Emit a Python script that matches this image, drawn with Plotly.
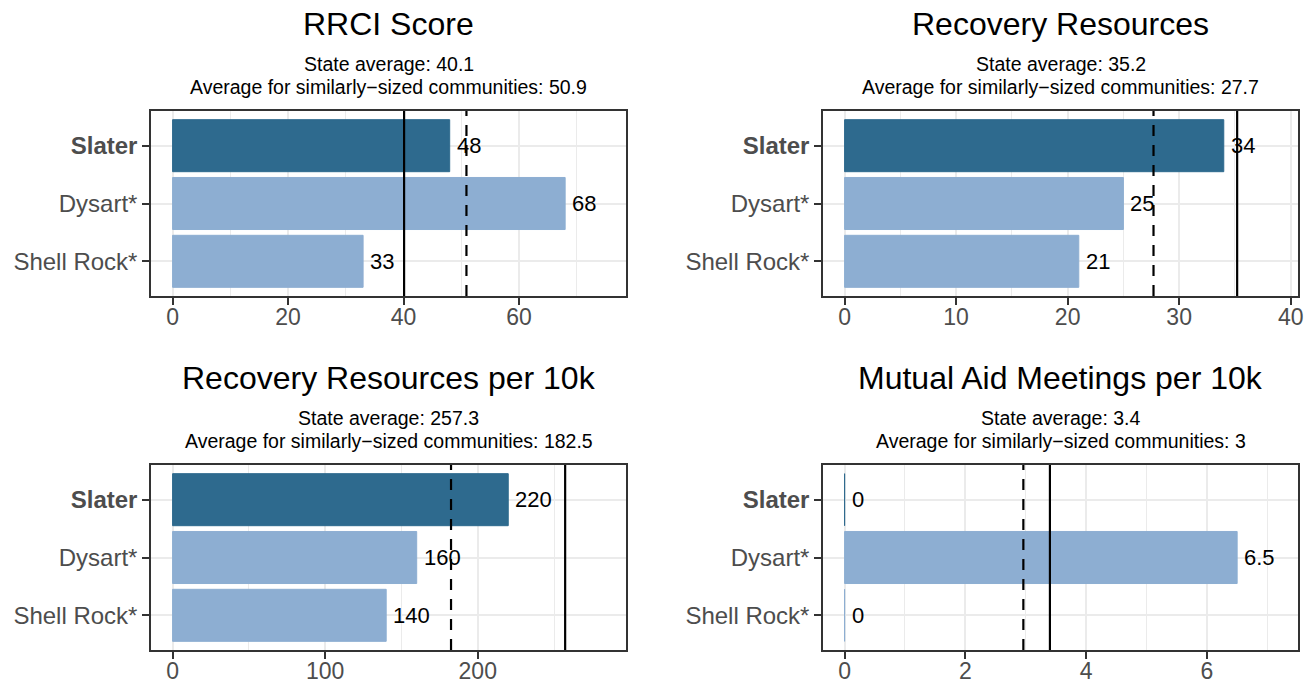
import plotly.graph_objects as go

# ---------------- data ----------------
communities = ["Slater", "Dysart*", "Shell Rock*"]
focus_community = "Slater"
titles = ["RRCI Score", "Recovery Resources",
          "Recovery Resources per 10k", "Mutual Aid Meetings per 10k"]
rrci_score = [48, 68, 33]
recovery_resources = [34, 25, 21]
recovery_resources_10k = [220, 160, 140]
mutual_aid_10k = [0, 6.5, 0]
state_avg = [40.1, 35.2, 257.3, 3.4]
similar_avg = [50.9, 27.7, 182.5, 2.96]
bar_labels = [["48", "68", "33"], ["34", "25", "21"],
              ["220", "160", "140"], ["0", "6.5", "0"]]
panel_values = [rrci_score, recovery_resources, recovery_resources_10k, mutual_aid_10k]

# ---------------- style ----------------
W, H = 1306, 683
DARK = "#2E6A8E"
LIGHT = "#8DAED2"
GRID = "#EBEBEB"
AXIS_TXT = "#4D4D4D"
FONT = "Liberation Sans, Arial, sans-serif"
major_dtick = [20, 10, 100, 2]

# plot-area pixel boxes (left, right, top, bottom)
boxes = [(151, 626, 111, 296), (823, 1298, 111, 296),
         (151, 626, 465, 650), (823, 1298, 465, 650)]


def fmt(v):
    return f"{round(v, 1):g}"


fig = go.Figure()
annotations = []
shapes = []

for i in range(4):
    vals = panel_values[i]
    xa = "x" if i == 0 else f"x{i+1}"
    ya = "y" if i == 0 else f"y{i+1}"
    colors = [DARK if c == focus_community else LIGHT for c in communities]
    fig.add_trace(go.Bar(
        x=vals, y=communities, orientation="h", width=0.9,
        marker=dict(color=colors, line=dict(color=colors, width=1)),
        xaxis=xa, yaxis=ya, showlegend=False, hoverinfo="x+y",
    ))
    # value labels
    for c, v, t in zip(communities, vals, bar_labels[i]):
        annotations.append(dict(
            x=v, y=c, xref=xa, yref=ya, text=t, showarrow=False,
            xanchor="left", yanchor="middle", xshift=5,
            font=dict(family=FONT, size=22, color="black"),
        ))
    # reference lines
    shapes.append(dict(type="line", xref=xa, yref=f"{ya} domain",
                       x0=state_avg[i], x1=state_avg[i], y0=0, y1=1,
                       line=dict(color="black", width=2.2)))
    shapes.append(dict(type="line", xref=xa, yref=f"{ya} domain",
                       x0=similar_avg[i], x1=similar_avg[i], y0=0, y1=1,
                       line=dict(color="black", width=2.2, dash="11px,9px")))

    L = max(vals + [state_avg[i], similar_avg[i]]) * 1.1
    l, r, t, b = boxes[i]
    xdom = [l / W, r / W]
    ydom = [1 - b / H, 1 - t / H]
    axis_common = dict(
        showline=True, mirror=True, linecolor="#333333", linewidth=1.5,
        ticks="outside", ticklen=7, tickwidth=1.5, tickcolor="#333333",
        showgrid=True, gridcolor=GRID, gridwidth=1.6, zeroline=False,
        automargin=False,
    )
    fig.update_layout({
        ("xaxis" if i == 0 else f"xaxis{i+1}"): dict(
            domain=xdom, range=[-0.05 * L, 1.05 * L], anchor=ya,
            tickmode="linear", tick0=0, dtick=major_dtick[i],
            ticklabelstandoff=-7,
            tickfont=dict(family=FONT, size=23, color=AXIS_TXT),
            minor=dict(showgrid=True, gridcolor=GRID, gridwidth=0.8,
                       dtick=major_dtick[i] / 2, tick0=0, ticks=""),
            **axis_common),
        ("yaxis" if i == 0 else f"yaxis{i+1}"): dict(
            domain=ydom, range=[2.6, -0.6], anchor=xa,
            tickmode="array", tickvals=communities,
            ticktext=[f"<b>{c}</b>" if c == focus_community else c for c in communities],
            tickfont=dict(family=FONT, size=24, color=AXIS_TXT),
            **axis_common),
    })

    xc = (l + r) / 2 / W
    annotations.append(dict(x=xc, y=1 - (t - 87) / H, xref="paper", yref="paper",
                            text=titles[i], showarrow=False, xanchor="center",
                            yanchor="middle",
                            font=dict(family=FONT, size=32, color="black")))
    annotations.append(dict(x=xc, y=1 - (t - 47.5) / H, xref="paper", yref="paper",
                            text=f"State average: {fmt(state_avg[i])}", showarrow=False,
                            xanchor="center", yanchor="middle",
                            font=dict(family=FONT, size=19.5, color="black")))
    annotations.append(dict(x=xc, y=1 - (t - 24) / H, xref="paper", yref="paper",
                            text=f"Average for similarly\u2212sized communities: {fmt(similar_avg[i])}",
                            showarrow=False, xanchor="center", yanchor="middle",
                            font=dict(family=FONT, size=19.5, color="black")))

fig.update_layout(
    width=W, height=H, margin=dict(l=0, r=0, t=0, b=0, autoexpand=False),
    paper_bgcolor="white", plot_bgcolor="white",
    annotations=annotations, shapes=shapes, bargap=0.1,
    font=dict(family=FONT),
)

fig.write_html("out.html",
               config={"displayModeBar": False},
               post_script="document.body.style.margin='0';"
                           "document.body.style.overflow='hidden';")
